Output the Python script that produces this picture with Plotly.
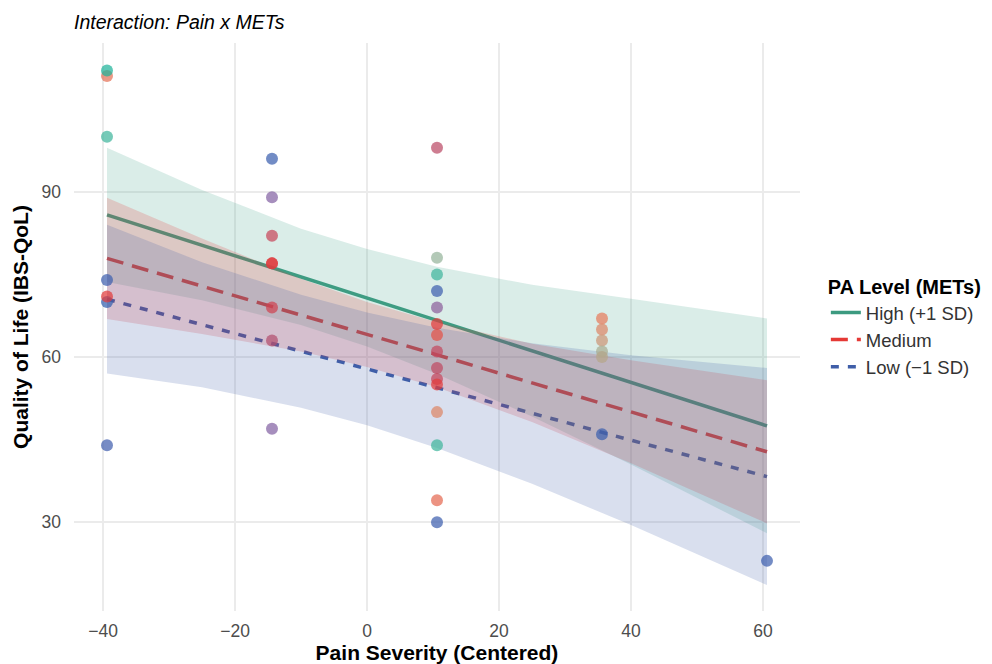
import plotly.graph_objects as go

# ---- data ----
band_pain = [-39.4, -25, -10, 0, 10.6, 25, 40, 60.6]

high_fit = [85.8, 80.3, 74.5, 70.7, 66.7, 61.1, 55.4, 47.5]
high_lo = [73.6, 70.3, 65.8, 61.9, 56.9, 49.2, 40.5, 28.0]
high_hi = [98.0, 90.3, 83.3, 79.6, 76.4, 73.1, 70.6, 67.0]

med_fit = [77.9, 72.9, 67.6, 64.1, 60.4, 55.3, 50.0, 42.8]
med_lo = [66.9, 64.2, 61.0, 58.2, 54.5, 48.2, 40.7, 29.8]
med_hi = [88.9, 81.5, 74.2, 70.0, 66.3, 62.4, 59.4, 55.8]

low_fit = [70.5, 65.9, 61.0, 57.8, 54.4, 49.8, 44.9, 38.3]
low_lo = [57.0, 54.5, 50.8, 47.6, 43.5, 37.0, 29.5, 18.6]
low_hi = [84.0, 77.2, 71.3, 68.1, 65.3, 62.5, 60.3, 58.0]

pt_pain = [-39.4, -39.4, -39.4, -39.4, -39.4, -39.4, -39.4,
           -14.4, -14.4, -14.4, -14.4, -14.4, -14.4, -14.4, -14.4,
           10.6, 10.6, 10.6, 10.6, 10.6, 10.6, 10.6, 10.6, 10.6, 10.6, 10.6, 10.6, 10.6, 10.6, 10.6,
           35.6, 35.6, 35.6, 35.6, 35.6, 35.6,
           60.6]
pt_qol = [111, 112, 100, 74, 70, 71, 44,
          96, 89, 82, 77, 77, 69, 63, 47,
          98, 78, 75, 72, 69, 66, 64, 61, 58, 56, 55, 50, 44, 34, 30,
          67, 65, 63, 61, 60, 46,
          23]
pt_mets = [0.62, 1.0, 0.97, 0.05, 0.02, 0.5, 0.06,
           0.04, 0.26, 0.43, 0.47, 0.5, 0.45, 0.38, 0.26,
           0.4, 0.88, 0.97, 0.05, 0.28, 0.5, 0.55, 0.42, 0.41, 0.42, 0.5, 0.68, 0.97, 0.6, 0.05,
           0.64, 0.68, 0.74, 0.84, 0.81, 0.04,
           0.05]

series = [
    ("High (+1 SD)", high_fit, high_lo, high_hi, "#3c9a80", "rgba(69,165,140,0.2)", "solid"),
    ("Medium", med_fit, med_lo, med_hi, "#e53935", "rgba(229,57,53,0.2)", "17px,9px"),
    ("Low (\u22121 SD)", low_fit, low_lo, low_hi, "#3f5ea8", "rgba(63,94,168,0.2)", "8px,9px"),
]

fig = go.Figure()

# lines first (ribbons drawn over them, as in the reference)
for name, fit, lo, hi, col, fcol, dash in series:
    fig.add_trace(go.Scatter(
        x=band_pain, y=fit, mode="lines", name=name,
        line=dict(color=col, width=3.5, dash=dash),
        hoverinfo="skip"))

for name, fit, lo, hi, col, fcol, dash in series:
    fig.add_trace(go.Scatter(
        x=band_pain + band_pain[::-1], y=hi + lo[::-1],
        mode="lines", fill="toself", fillcolor=fcol,
        line=dict(width=0), showlegend=False, hoverinfo="skip"))

fig.add_trace(go.Scatter(
    x=pt_pain, y=pt_qol, mode="markers", showlegend=False,
    marker=dict(size=12, color=pt_mets, cmin=0, cmax=1,
                colorscale=[[0, "#2f5fb0"], [0.25, "#8064a8"], [0.5, "#e23b3b"],
                            [0.65, "#e6805e"], [0.8, "#bba486"], [0.9, "#8cb8a0"],
                            [1, "#1fb39a"]],
                opacity=0.72, line=dict(width=0)),
    hoverinfo="skip"))

axis_common = dict(
    showgrid=True, gridcolor="#ebebeb", gridwidth=1.6,
    zeroline=False, showline=False, ticks="",
    tickfont=dict(size=17.5, color="#4d4d4d"),
)

fig.update_layout(
    width=1000, height=664,
    margin=dict(l=62, r=208, t=35, b=60),
    plot_bgcolor="white", paper_bgcolor="white",
    font=dict(family="Liberation Sans, Arial, sans-serif", color="black"),
    title=dict(text="<i>Interaction: Pain x METs</i>", x=0, xref="paper", xanchor="left",
               y=0.979, yref="container", yanchor="middle",
               font=dict(size=19.5, color="black")),
    legend=dict(
        title=dict(text="<b>PA Level (METs)</b>", font=dict(size=20, color="black")),
        x=1.0356, xanchor="left", y=0.5, yanchor="middle",
        font=dict(size=18.5, color="#333333"), itemwidth=30,
        bgcolor="rgba(0,0,0,0)"),
    xaxis=dict(range=[-44.4, 65.6], tickvals=[-40, -20, 0, 20, 40, 60],
               title=dict(text="<b>Pain Severity (Centered)</b>", font=dict(size=21, color="black"), standoff=5),
               ticklabelstandoff=7, **axis_common),
    yaxis=dict(range=[13.9, 117], tickvals=[30, 60, 90],
               title=dict(text="<b>Quality of Life (IBS-QoL)</b>", font=dict(size=21, color="black"), standoff=7),
               ticklabelstandoff=12, **axis_common),
)

fig.write_html("out.html")
